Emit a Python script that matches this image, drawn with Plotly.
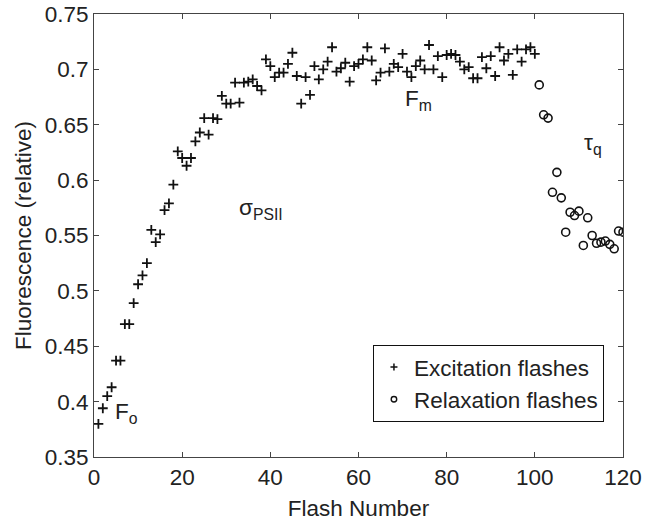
import plotly.graph_objects as go

# Excitation flashes (flash 1..100)
exc_flash = list(range(1, 101))
exc_fluor = [
    0.380, 0.394, 0.405, 0.413, 0.437, 0.437, 0.470, 0.470, 0.489, 0.506,
    0.514, 0.525, 0.555, 0.544, 0.551, 0.573, 0.579, 0.596, 0.626, 0.620,
    0.613, 0.620, 0.635, 0.643, 0.656, 0.641, 0.656, 0.655, 0.676, 0.669,
    0.669, 0.688, 0.670, 0.688, 0.689, 0.691, 0.685, 0.681, 0.709, 0.703,
    0.693, 0.697, 0.697, 0.705, 0.715, 0.694, 0.669, 0.693, 0.677, 0.703,
    0.691, 0.700, 0.707, 0.720, 0.698, 0.701, 0.706, 0.689, 0.703, 0.705,
    0.709, 0.720, 0.708, 0.690, 0.697, 0.719, 0.698, 0.705, 0.702, 0.714,
    0.698, 0.693, 0.703, 0.708, 0.700, 0.722, 0.700, 0.712, 0.693, 0.713,
    0.714, 0.713, 0.707, 0.700, 0.702, 0.692, 0.692, 0.711, 0.701, 0.712,
    0.694, 0.720, 0.708, 0.714, 0.695, 0.718, 0.707, 0.718, 0.720, 0.714,
]

# Relaxation flashes (flash 101..120)
rel_flash = list(range(101, 121))
rel_fluor = [
    0.686, 0.659, 0.656, 0.589, 0.607, 0.584, 0.553, 0.571, 0.568, 0.572,
    0.541, 0.566, 0.550, 0.543, 0.544, 0.545, 0.542, 0.538, 0.554, 0.553,
]

x_ticks = [0, 20, 40, 60, 80, 100, 120]
y_ticks = [0.35, 0.4, 0.45, 0.5, 0.55, 0.6, 0.65, 0.7, 0.75]
y_tick_text = ["0.35", "0.4", "0.45", "0.5", "0.55", "0.6", "0.65", "0.7", "0.75"]

FONT = "Liberation Sans, Arial, Helvetica, sans-serif"
FS = 22.5
TXT = "#222"

fig = go.Figure()
fig.add_trace(go.Scatter(
    x=exc_flash, y=exc_fluor, mode="markers", name="Excitation flashes",
    showlegend=False,
    marker=dict(symbol="cross-thin", size=7, color="#111",
                line=dict(color="#111", width=1.8)),
))
fig.add_trace(go.Scatter(
    x=rel_flash, y=rel_fluor, mode="markers", name="Relaxation flashes",
    showlegend=False,
    marker=dict(symbol="circle-open", size=8, color="#111",
                line=dict(color="#111", width=1.6)),
))
# legend entries (small markers, as in the reference legend)
fig.add_trace(go.Scatter(
    x=[None], y=[None], mode="markers", name="Excitation flashes",
    marker=dict(symbol="cross-thin", size=5, color="#111",
                line=dict(color="#111", width=1.5)),
))
fig.add_trace(go.Scatter(
    x=[None], y=[None], mode="markers", name="Relaxation flashes",
    marker=dict(symbol="circle-open", size=5.5, color="#111",
                line=dict(color="#111", width=1.4)),
))

ann_font = dict(family=FONT, size=FS, color=TXT)
annotations = [
    dict(x=4.2, y=0.390, text="F<sub>o</sub>", xanchor="left", yanchor="middle"),
    dict(x=32.5, y=0.574, text="σ<sub>PSII</sub>", xanchor="left", yanchor="middle"),
    dict(x=70.2, y=0.672, text="F<sub>m</sub>", xanchor="left", yanchor="middle"),
    dict(x=110.7, y=0.633, text="τ<sub>q</sub>", xanchor="left", yanchor="middle"),
]
for a in annotations:
    a.update(xref="x", yref="y", showarrow=False, font=ann_font)

axis_common = dict(
    showgrid=False, zeroline=False, showline=True, linecolor="#444", linewidth=1,
    mirror="allticks", ticks="inside", ticklen=5, tickcolor="#444", tickwidth=1,
    tickfont=dict(family=FONT, size=FS, color=TXT), automargin=False,
)

fig.update_layout(
    width=657, height=525,
    margin=dict(l=94, r=34, t=14, b=68),
    paper_bgcolor="white", plot_bgcolor="white",
    font=dict(family=FONT, size=FS, color=TXT),
    xaxis=dict(range=[0, 120], tickvals=x_ticks,
               title=dict(text="Flash Number", font=dict(family=FONT, size=FS, color=TXT), standoff=11),
               **axis_common),
    yaxis=dict(range=[0.35, 0.75], tickvals=y_ticks, ticktext=y_tick_text,
               title=dict(text="Fluorescence (relative)", font=dict(family=FONT, size=FS, color=TXT), standoff=6),
               **axis_common),
    legend=dict(x=0.964, y=0.253, xanchor="right", yanchor="top",
                bgcolor="white", bordercolor="#111", borderwidth=1,
                font=dict(family=FONT, size=FS, color=TXT),
                tracegroupgap=0, itemwidth=30),
    annotations=annotations,
    showlegend=True,
)

fig.write_html("out.html")
